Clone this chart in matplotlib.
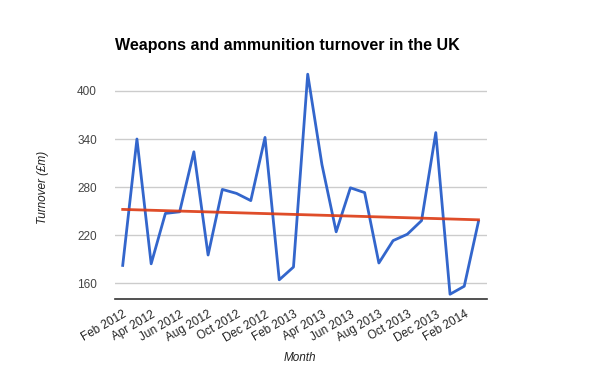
import numpy as np
import matplotlib
matplotlib.use('Agg')
import matplotlib.pyplot as plt

plt.rcParams['font.family'] = ['Liberation Sans', 'DejaVu Sans']

# monthly turnover, Feb 2012 - Mar 2014
months = ['Feb 2012', 'Mar 2012', 'Apr 2012', 'May 2012', 'Jun 2012', 'Jul 2012',
          'Aug 2012', 'Sep 2012', 'Oct 2012', 'Nov 2012', 'Dec 2012', 'Jan 2013',
          'Feb 2013', 'Mar 2013', 'Apr 2013', 'May 2013', 'Jun 2013', 'Jul 2013',
          'Aug 2013', 'Sep 2013', 'Oct 2013', 'Nov 2013', 'Dec 2013', 'Jan 2014',
          'Feb 2014', 'Mar 2014']
turnover = [182, 340, 184, 247, 249, 324, 195, 277, 272, 263, 342, 164,
            180, 421, 308, 224, 279, 273, 185, 213, 221, 238, 348, 146,
            156, 237]
# trend line as drawn in the original (first and last month)
trend_ends = [252, 239]
yticks = [160, 220, 280, 340, 400]

x = np.arange(len(months))

fig = plt.figure(figsize=(6, 3.71), dpi=100)
ax = fig.add_axes([0.1917, 0.194, 0.62, 0.647])

for yv in yticks:
    ax.axhline(yv, color='#cccccc', lw=1, zorder=1)
ax.plot(x, turnover, color='#3366cc', lw=2, zorder=3, clip_on=False)
ax.plot([x[0], x[-1]], trend_ends, color='#dc3912', lw=2, zorder=4,
        alpha=0.9, clip_on=False)

ax.set_xlim(-0.54, 25.6)
ax.set_ylim(140, 440)
ax.set_yticks(yticks)
ax.set_yticklabels([str(v) for v in yticks], color='#444444', fontsize=8.5)
ax.tick_params(axis='y', length=0, pad=13)
ax.set_xticks(x[::2])
ax.set_xticklabels(months[::2], rotation=30, ha='right', rotation_mode='anchor',
                   fontsize=8.5, color='#222222')
ax.tick_params(axis='x', length=0, pad=7)

for s in ['top', 'right', 'left']:
    ax.spines[s].set_visible(False)
ax.spines['bottom'].set_color('#333333')
ax.spines['bottom'].set_linewidth(1.2)

fig.text(0.1917, 0.865, 'Weapons and ammunition turnover in the UK',
         fontsize=11.5, fontweight='bold', ha='left', va='baseline')
fig.text(0.072, 0.495, 'Turnover (£m)', rotation=90, style='italic',
         fontsize=8.5, ha='center', va='center', color='#222222')
fig.text(0.5, 0.035, 'Month', style='italic', fontsize=8.5,
         ha='center', va='center', color='#222222')

fig.savefig('out.png', dpi=100)
